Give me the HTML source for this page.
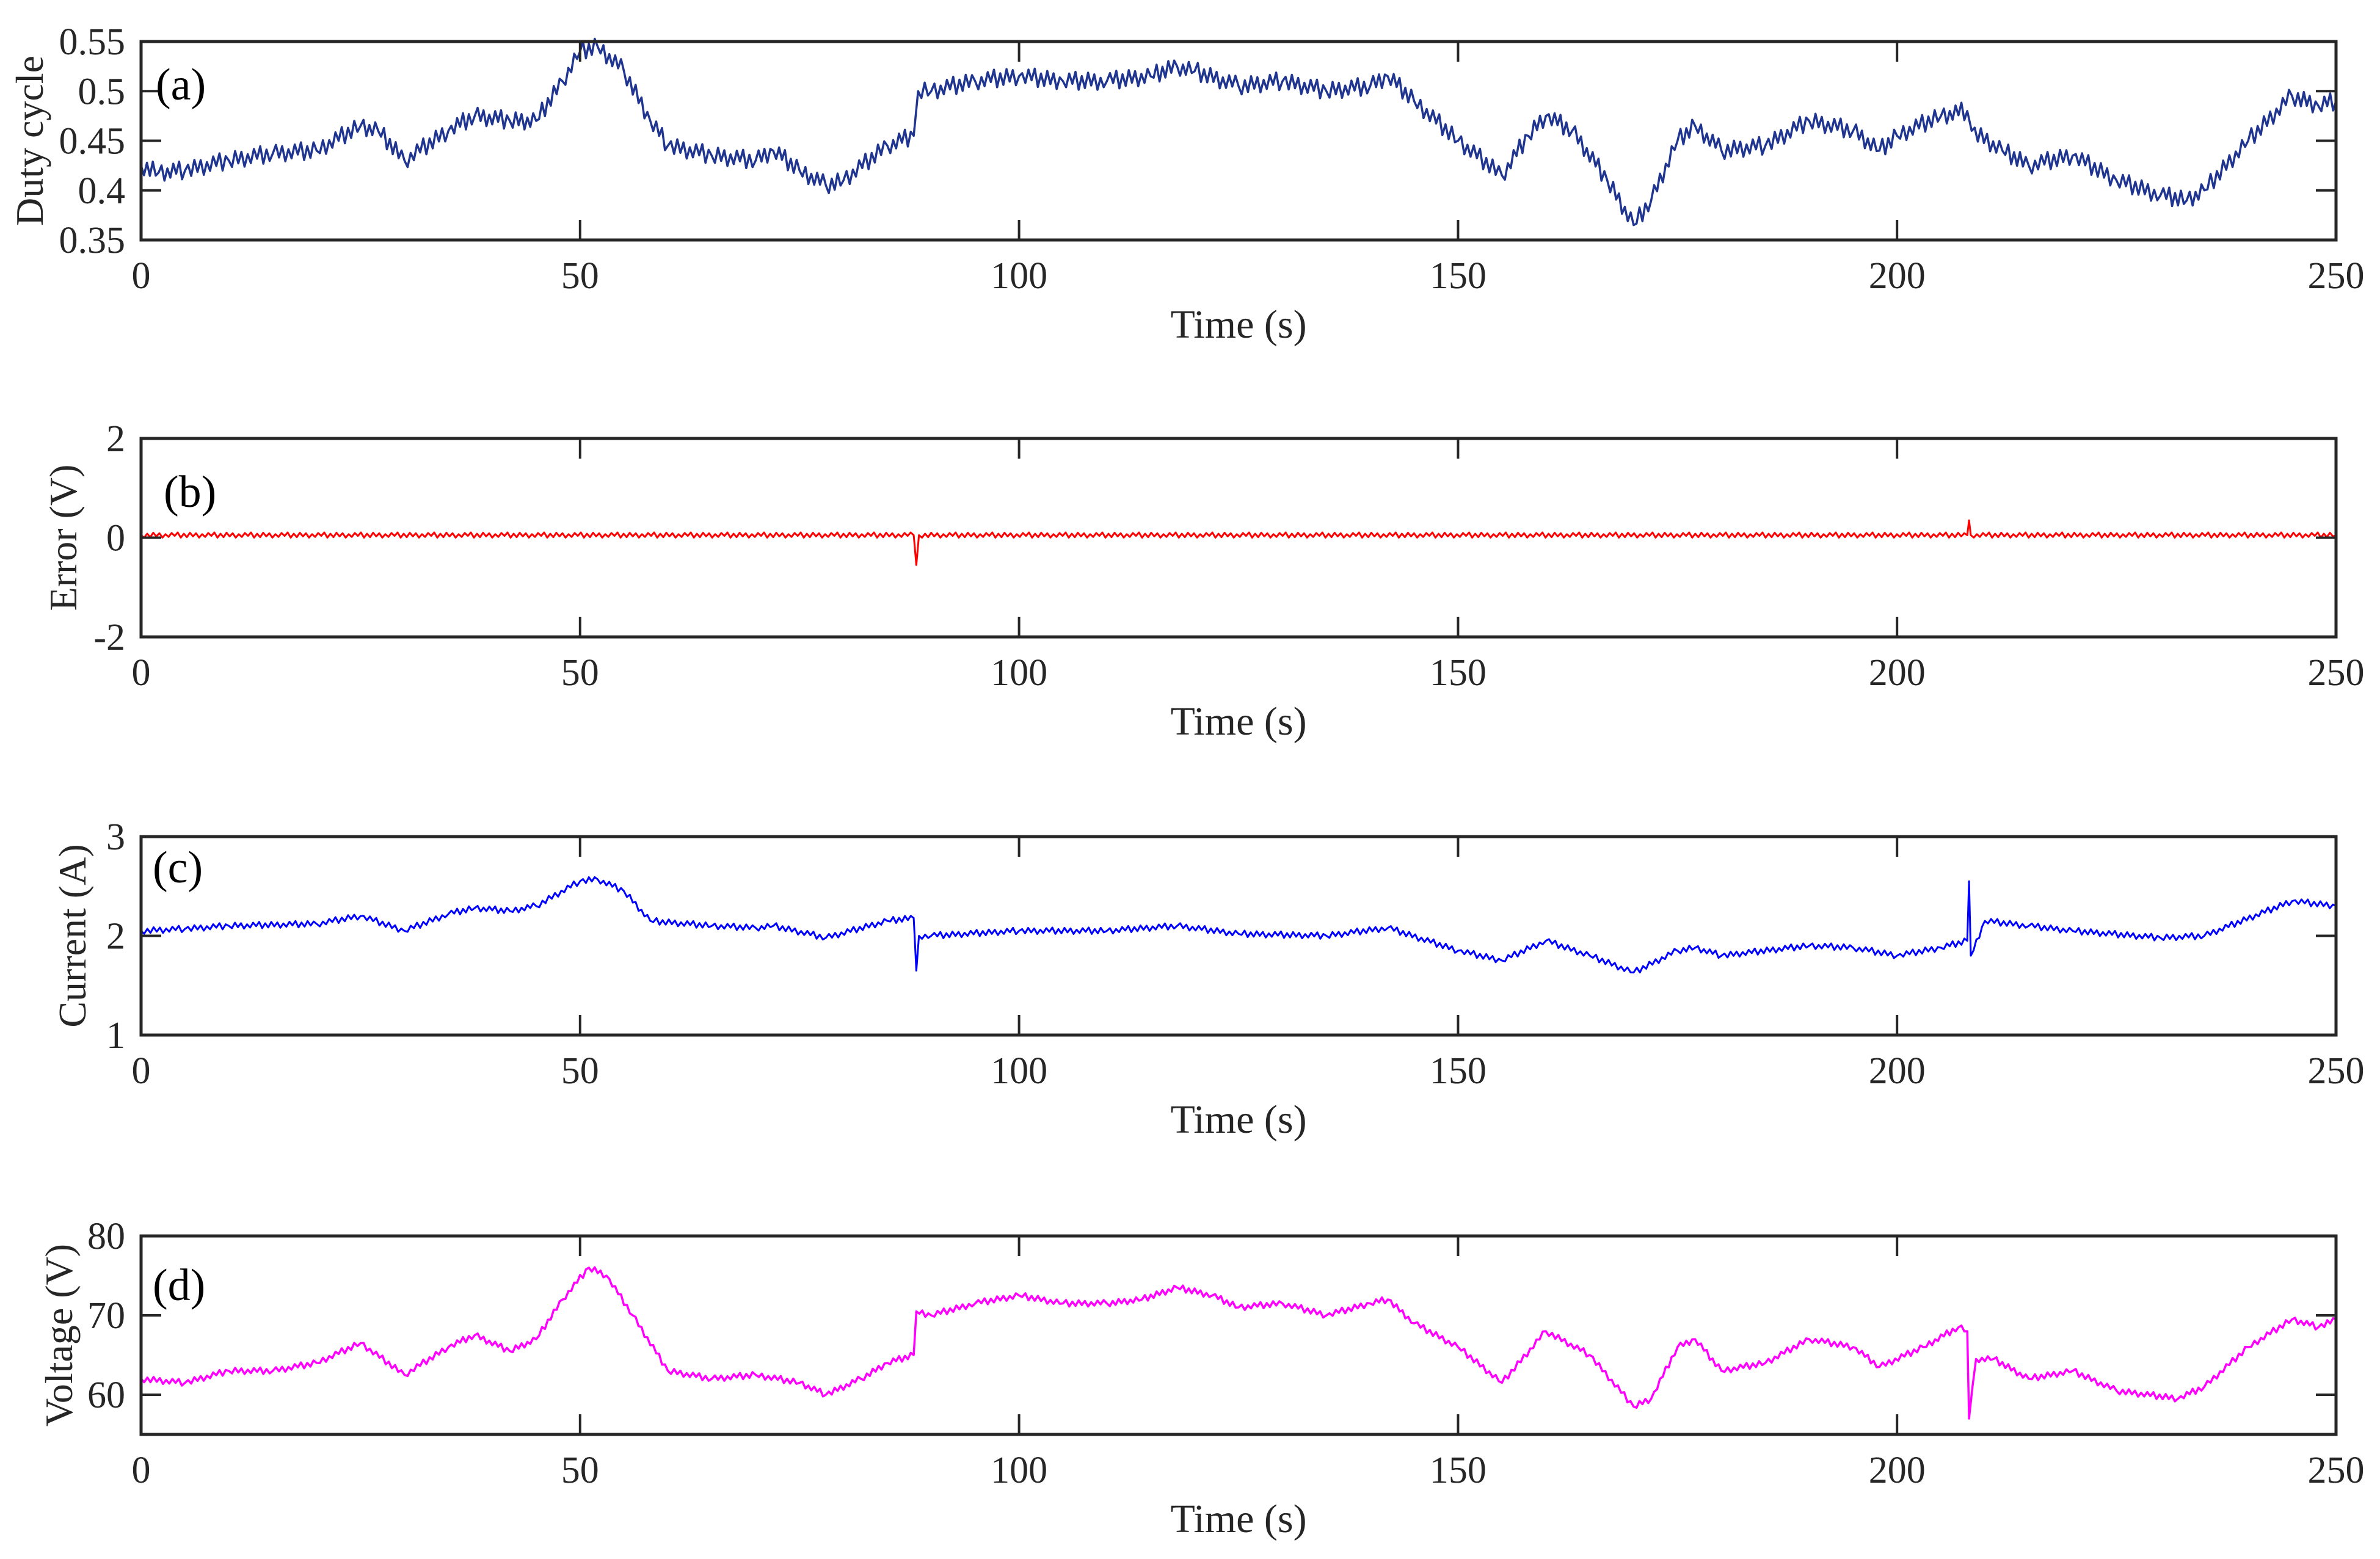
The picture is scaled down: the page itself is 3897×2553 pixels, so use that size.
<!DOCTYPE html>
<html><head><meta charset="utf-8"><style>
html,body{margin:0;padding:0;background:#fff;}
svg{display:block;font-family:"Liberation Serif",serif;}
</style></head><body>
<svg id="chart" width="3897" height="2553" viewBox="0 0 3897 2553" xmlns="http://www.w3.org/2000/svg"></svg>
<script>
// ---- data ----
const xTicks = [0, 50, 100, 150, 200, 250];

const dutyT = [0,2,5,10,15,20,25,27,30,35,38,42,45,48,50,52,55,58,60,65,70,72,75,78,80,85,88,88.5,90,95,100,105,110,115,118,120,125,130,135,140,142,145,150,155,158,160,163,167,170,172,175,177,180,185,190,195,198,200,205,208,208.5,212,215,220,225,230,233,235,240,245,248,250];
const dutyV = [0.425,0.418,0.42,0.43,0.437,0.44,0.465,0.46,0.43,0.46,0.475,0.47,0.47,0.51,0.54,0.545,0.52,0.47,0.445,0.435,0.43,0.44,0.42,0.405,0.41,0.445,0.455,0.5,0.5,0.51,0.515,0.51,0.51,0.515,0.525,0.52,0.505,0.51,0.5,0.505,0.515,0.49,0.45,0.415,0.455,0.475,0.46,0.41,0.365,0.39,0.45,0.465,0.44,0.445,0.47,0.46,0.44,0.455,0.475,0.48,0.46,0.44,0.425,0.435,0.41,0.395,0.39,0.4,0.45,0.495,0.485,0.49];
const dutyTicks = [0.35,0.4,0.45,0.5,0.55];
const dutyTickLabels = ["0.35","0.4","0.45","0.5","0.55"];

const errT = [0,88,88.3,88.6,208,208.2,208.4,250];
const errV = [0.05,0.05,-0.55,0.05,0.05,0.35,0.05,0.05];
const errTicks = [-2,0,2];
const errTickLabels = ["-2","0","2"];

const curT = [0,5,10,20,25,30,35,38,42,45,50,52,55,58,65,70,72,78,85,88,88.3,88.6,90,100,110,118,125,135,142,150,155,160,165,170,175,177,180,190,195,200,205,208,208.2,208.4,210,215,220,230,235,245,250];
const curV = [2.05,2.07,2.1,2.12,2.2,2.05,2.22,2.28,2.25,2.3,2.55,2.57,2.45,2.15,2.1,2.08,2.1,1.98,2.15,2.18,1.65,2.0,2.0,2.05,2.05,2.1,2.02,2.0,2.08,1.85,1.75,1.95,1.8,1.63,1.85,1.88,1.8,1.9,1.88,1.8,1.88,1.95,2.55,1.8,2.15,2.1,2.05,1.98,2.0,2.35,2.3];
const curTicks = [1,2,3];
const curTickLabels = ["1","2","3"];

const volT = [0,5,10,15,20,25,30,35,38,42,45,48,51,53,56,60,65,70,75,78,82,85,88,88.3,90,95,100,105,110,114,118,122,125,130,135,140,142,145,150,155,160,165,170,172,175,177,180,185,190,195,198,203,207,208,208.2,209,211,215,220,225,232,235,240,245,248,250];
const volV = [62,61.5,63,63,64,66.5,62.5,66,67.5,65.5,67,72,76,75,70,63,62,62.5,61.5,60,62,64,65,70.5,70,71.5,72.5,71.5,71.5,72,73.5,72.5,71,71.5,70,71.5,72,69,66,61.5,68,65,58.5,59.5,66,67,63,64,67,66,63.5,66,68.5,68,57,64.5,64.5,62,63,60.5,59.5,61,66,69.5,68.5,69.5];
const volTicks = [60,70,80];
const volTickLabels = ["60","70","80"];

// ---- drawing ----
const NS = "http://www.w3.org/2000/svg";
const svg = document.getElementById('chart');
const X0 = 231, X1 = 3825, H = 325;
// visual ripple texture (styling only, pixel offsets)
const ripple = [1, -0.6, 0.8, -1, 0.5, -0.8, 1, -0.4, 0.7, -0.9, 0.3, -1.1];
function mk(tag, attrs, parent){
  const e = document.createElementNS(NS, tag);
  for (const k in attrs) e.setAttribute(k, attrs[k]);
  (parent||svg).appendChild(e);
  return e;
}
function panel(cfg){
  const g = mk('g', {});
  
  
  const top = cfg.top, bot = top + H;
  const xs = t => X0 + (t - 0) / 250 * (X1 - X0);
  const ys = v => bot - (v - cfg.min) / (cfg.max - cfg.min) * H;
  // series: interpolate between data points in pixel space, add ripple texture
  const pts = cfg.t.map((t, i) => [xs(t), ys(cfg.v[i])]);
  let d = 'M' + pts[0][0].toFixed(1) + ' ' + pts[0][1].toFixed(1);
  let k = 0;
  for (let i = 1; i < pts.length; i++) {
    const [ax, ay] = pts[i - 1], [bx, by] = pts[i];
    const n = Math.max(1, Math.round((bx - ax) / cfg.step));
    for (let j = 1; j <= n; j++) {
      const f = j / n;
      const x = ax + (bx - ax) * f, y = ay + (by - ay) * f;
      const off = (j < n) ? ripple[(k++) % ripple.length] * cfg.amp : 0;
      d += 'L' + x.toFixed(1) + ' ' + (y + off).toFixed(1);
    }
  }
  const line = mk('path', {d: d, fill: 'none', stroke: cfg.color, 'stroke-width': cfg.sw, 'stroke-linejoin': 'round'}, g);
  
  
  // frame
  const fr = mk('rect', {x: X0, y: top, width: X1 - X0, height: H, fill: 'none', stroke: '#262626', 'stroke-width': 5}, g);
  
  
  xTicks.forEach(t => {
    const x = xs(t);
    if (t > 0 && t < 250) {
      mk('line', {x1: x, y1: bot, x2: x, y2: bot - 33, stroke: '#262626', 'stroke-width': 4}, g);
      mk('line', {x1: x, y1: top, x2: x, y2: top + 33, stroke: '#262626', 'stroke-width': 4}, g);
    }
    const tx = mk('text', {x: x, y: bot + 79, 'font-size': 62, 'text-anchor': 'middle', fill: '#262626'}, g);
    tx.textContent = String(t);
    
    
  });
  cfg.ticks.forEach((v, i) => {
    const y = ys(v);
    if (v > cfg.min && v < cfg.max) {
      mk('line', {x1: X0, y1: y, x2: X0 + 33, y2: y, stroke: '#262626', 'stroke-width': 4}, g);
      mk('line', {x1: X1, y1: y, x2: X1 - 33, y2: y, stroke: '#262626', 'stroke-width': 4}, g);
    }
    const ty = mk('text', {x: 205, y: y + 21, 'font-size': 62, 'text-anchor': 'end', fill: '#262626'}, g);
    ty.textContent = cfg.labels[i];
    
    
  });
  const xt = mk('text', {x: (X0 + X1) / 2, y: bot + 160, 'font-size': 66, 'text-anchor': 'middle', fill: '#262626'}, g);
  xt.textContent = 'Time (s)';
  
  
  const cy = top + H / 2;
  const yt = mk('text', {x: cfg.ylx, y: cy, 'font-size': 64, 'text-anchor': 'middle', fill: '#262626', transform: 'rotate(-90 ' + cfg.ylx + ' ' + cy + ')'}, g);
  yt.textContent = cfg.ylabel;
  
  
  const pl = mk('text', {x: cfg.plx, y: top + cfg.ply, 'font-size': 74, fill: '#000'}, g);
  pl.textContent = cfg.tag;
  
  
}
panel({name:'duty-cycle', top:68, min:0.35, max:0.55, t:dutyT, v:dutyV, ticks:dutyTicks, labels:dutyTickLabels, color:'#1f3590', sw:3.5, amp:14, step:5, ylabel:'Duty cycle', ylx:70, tag:'(a)', plx:255, ply:95});
panel({name:'error', top:718, min:-2, max:2, t:errT, v:errV, ticks:errTicks, labels:errTickLabels, color:'#ff0000', sw:3, amp:4, step:5, ylabel:'Error (V)', ylx:125, tag:'(b)', plx:268, ply:112});
panel({name:'current', top:1370, min:1, max:3, t:curT, v:curV, ticks:curTicks, labels:curTickLabels, color:'#0000ff', sw:3, amp:5, step:5, ylabel:'Current (A)', ylx:140, tag:'(c)', plx:250, ply:75});
panel({name:'voltage', top:2024, min:55, max:80, t:volT, v:volV, ticks:volTicks, labels:volTickLabels, color:'#ff00ff', sw:3.5, amp:5, step:5, ylabel:'Voltage (V)', ylx:118, tag:'(d)', plx:250, ply:105});
</script>
</body></html>
